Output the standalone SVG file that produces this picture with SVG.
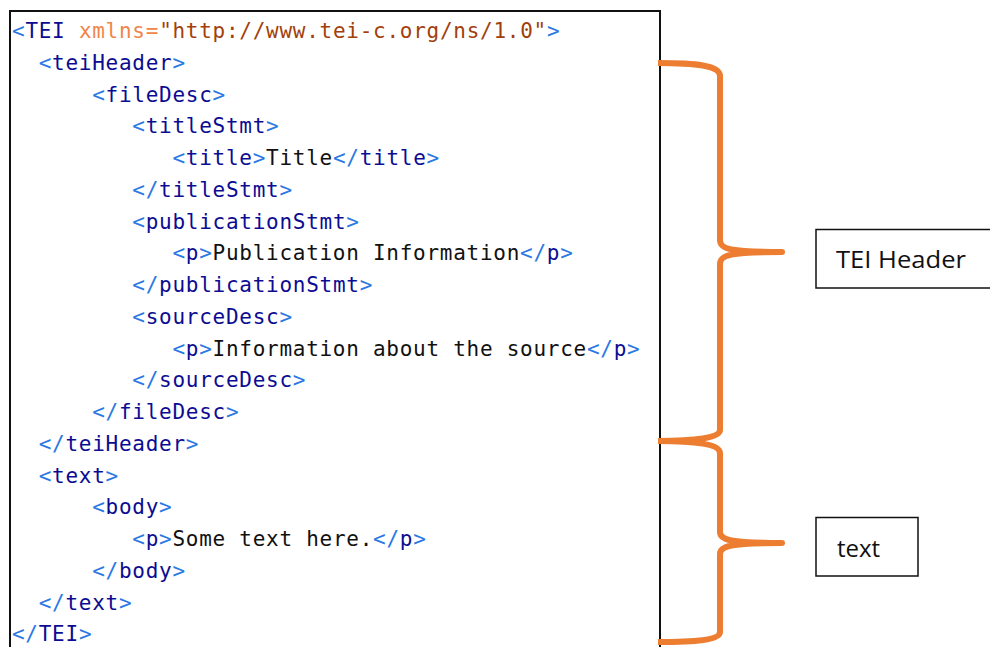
<svg xmlns="http://www.w3.org/2000/svg" width="990" height="647" viewBox="0 0 990 647">
  <style>
    .code { font-family: "DejaVu Sans Mono", "Liberation Mono", monospace; font-size: 21px; letter-spacing: 0.73px; fill: #111; }
    .br { fill: #2a78e4; }
    .tg { fill: #0c0c92; }
    .at { fill: #f0854a; }
    .av { fill: #a23f0c; }
    .frame { fill: none; stroke: #111; stroke-width: 2; }
    .brace { fill: none; stroke: #ED7D31; stroke-width: 6; stroke-linecap: butt; stroke-linejoin: round; }
    .label { font-family: "Open Sans", "Liberation Sans", sans-serif; font-size: 24px; fill: #111; }
  </style>

  <rect width="990" height="647" fill="#ffffff"/>

  <!-- code listing -->
  <g id="code-panel">
    <path class="frame" d="M10,660 L10,11 L660,11 L660,660"/>
    <g class="code">
      <text x="12" y="38"><tspan class="br">&lt;</tspan><tspan class="tg">TEI</tspan> <tspan class="at">xmlns=</tspan><tspan class="av">"http://www.tei-c.org/ns/1.0"</tspan><tspan class="br">&gt;</tspan></text>
      <text x="38.7" y="69.8"><tspan class="br">&lt;</tspan><tspan class="tg">teiHeader</tspan><tspan class="br">&gt;</tspan></text>
      <text x="92.2" y="101.5"><tspan class="br">&lt;</tspan><tspan class="tg">fileDesc</tspan><tspan class="br">&gt;</tspan></text>
      <text x="132.3" y="133.3"><tspan class="br">&lt;</tspan><tspan class="tg">titleStmt</tspan><tspan class="br">&gt;</tspan></text>
      <text x="172.4" y="165"><tspan class="br">&lt;</tspan><tspan class="tg">title</tspan><tspan class="br">&gt;</tspan>Title<tspan class="br">&lt;/</tspan><tspan class="tg">title</tspan><tspan class="br">&gt;</tspan></text>
      <text x="132.3" y="196.8"><tspan class="br">&lt;/</tspan><tspan class="tg">titleStmt</tspan><tspan class="br">&gt;</tspan></text>
      <text x="132.3" y="228.5"><tspan class="br">&lt;</tspan><tspan class="tg">publicationStmt</tspan><tspan class="br">&gt;</tspan></text>
      <text x="172.4" y="260.3"><tspan class="br">&lt;</tspan><tspan class="tg">p</tspan><tspan class="br">&gt;</tspan>Publication Information<tspan class="br">&lt;/</tspan><tspan class="tg">p</tspan><tspan class="br">&gt;</tspan></text>
      <text x="132.3" y="292"><tspan class="br">&lt;/</tspan><tspan class="tg">publicationStmt</tspan><tspan class="br">&gt;</tspan></text>
      <text x="132.3" y="323.8"><tspan class="br">&lt;</tspan><tspan class="tg">sourceDesc</tspan><tspan class="br">&gt;</tspan></text>
      <text x="172.4" y="355.5"><tspan class="br">&lt;</tspan><tspan class="tg">p</tspan><tspan class="br">&gt;</tspan>Information about the source<tspan class="br">&lt;/</tspan><tspan class="tg">p</tspan><tspan class="br">&gt;</tspan></text>
      <text x="132.3" y="387.3"><tspan class="br">&lt;/</tspan><tspan class="tg">sourceDesc</tspan><tspan class="br">&gt;</tspan></text>
      <text x="92.2" y="419"><tspan class="br">&lt;/</tspan><tspan class="tg">fileDesc</tspan><tspan class="br">&gt;</tspan></text>
      <text x="38.7" y="450.8"><tspan class="br">&lt;/</tspan><tspan class="tg">teiHeader</tspan><tspan class="br">&gt;</tspan></text>
      <text x="38.7" y="482.5"><tspan class="br">&lt;</tspan><tspan class="tg">text</tspan><tspan class="br">&gt;</tspan></text>
      <text x="92.2" y="514.3"><tspan class="br">&lt;</tspan><tspan class="tg">body</tspan><tspan class="br">&gt;</tspan></text>
      <text x="132.3" y="546"><tspan class="br">&lt;</tspan><tspan class="tg">p</tspan><tspan class="br">&gt;</tspan>Some text here.<tspan class="br">&lt;/</tspan><tspan class="tg">p</tspan><tspan class="br">&gt;</tspan></text>
      <text x="92.2" y="577.8"><tspan class="br">&lt;/</tspan><tspan class="tg">body</tspan><tspan class="br">&gt;</tspan></text>
      <text x="38.7" y="609.5"><tspan class="br">&lt;/</tspan><tspan class="tg">text</tspan><tspan class="br">&gt;</tspan></text>
      <text x="12" y="641.3"><tspan class="br">&lt;/</tspan><tspan class="tg">TEI</tspan><tspan class="br">&gt;</tspan></text>
    </g>
  </g>

  <!-- curly braces grouping the two sections -->
  <g id="connectors">
    <path class="brace" d="M658,63 C695,63 720,65 720,76 L720,240 C720,249 730,252 782,252 C730,252 720,255 720,264 L720,430 C720,438 695,441 658,441"/>
    <path class="brace" d="M658,441 C695,441 720,444 720,453 L720,532 C720,540 730,543 782,543 C730,543 720,546 720,554 L720,632 C720,640 695,642 658,642"/>
  </g>

  <g id="label-header">
    <rect x="816" y="229.5" width="180" height="58.5" fill="#fff" stroke="#111" stroke-width="1.5"/>
    <text class="label" x="836" y="268" textLength="130" lengthAdjust="spacingAndGlyphs">TEI Header</text>
  </g>

  <g id="label-text">
    <rect x="816" y="517.5" width="102" height="58.5" fill="#fff" stroke="#111" stroke-width="1.5"/>
    <text class="label" x="837" y="557">text</text>
  </g>
</svg>
